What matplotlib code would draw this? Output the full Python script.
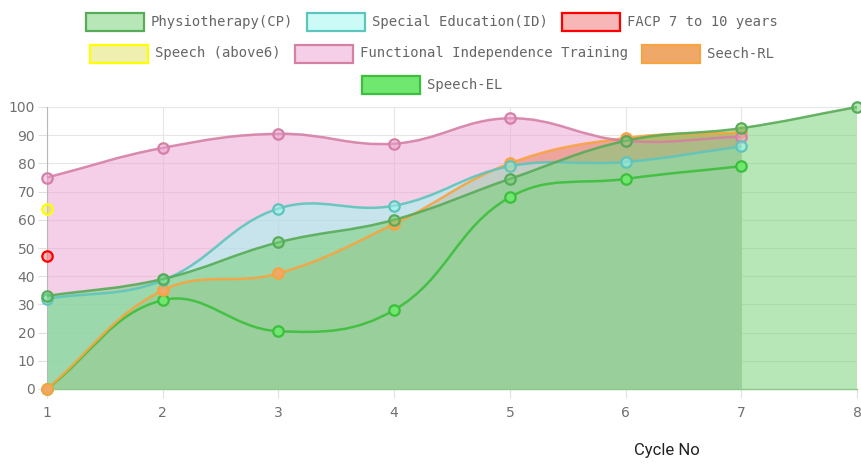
import numpy as np
import matplotlib
matplotlib.use("Agg")
import matplotlib.pyplot as plt
from matplotlib.path import Path
from matplotlib.patches import PathPatch, Rectangle

# data
cycles = [1, 2, 3, 4, 5, 6, 7, 8]
physio = [33, 39, 52, 60, 74.5, 88, 92.5, 100]
special_ed = [32, 38.5, 64, 65, 79, 80.5, 86]
facp = [47]
speech_above6 = [64]
fit = [75, 85.5, 90.5, 87, 96, 88, 89.5]
seech_rl = [0, 35, 41, 58.5, 80, 89, 91]
speech_el = [0, 31.5, 20.5, 28, 68, 74.5, 79]

labels = ["Physiotherapy(CP)", "Special Education(ID)", "FACP 7 to 10 years",
          "Speech (above6)", "Functional Independence Training", "Seech-RL", "Speech-EL"]
series = [physio, special_ed, facp, speech_above6, fit, seech_rl, speech_el]

fill_colors = [(0.443, 0.82, 0.443, 0.5),
               (0.608, 0.973, 0.941, 0.5),
               (0.945, 0.443, 0.443, 0.5),
               (0.882, 0.882, 0.38, 0.5),
               (0.922, 0.631, 0.82, 0.5),
               "#f0a868",
               "#70e870"]
line_colors = ["#58ab58", "#5ec5bc", "#ff0000", "#ffff00", "#d580a5", "#f7a440", "#3cbf3c"]

W, H = 861, 467
fig = plt.figure(figsize=(W / 100, H / 100), dpi=100)
ax = fig.add_axes([47 / W, 1 - 389 / H, 810 / W, 282 / H])
ax.set_xlim(1, 8)
ax.set_ylim(0, 100)


def bezier(xs, ys, t=0.4):
    # chart.js style spline, control points worked out in pixel space
    pts = ax.transData.transform(np.column_stack([xs, ys]))
    n = len(pts)
    cp_prev, cp_next = [], []
    for i in range(n):
        cur = pts[i]
        prev = pts[i - 1] if i > 0 else cur
        nxt = pts[i + 1] if i < n - 1 else cur
        d01 = np.hypot(*(cur - prev))
        d12 = np.hypot(*(nxt - cur))
        s = d01 + d12
        s01 = d01 / s if s else 0
        s12 = d12 / s if s else 0
        cp_prev.append(cur - t * s01 * (nxt - prev))
        cp_next.append(cur + t * s12 * (nxt - prev))
    verts = [pts[0]]
    for i in range(n - 1):
        verts += [cp_next[i], cp_prev[i + 1], pts[i + 1]]
    verts = ax.transData.inverted().transform(np.array(verts))
    verts[:, 1] = np.clip(verts[:, 1], 0, 100)
    codes = [Path.MOVETO] + [Path.CURVE4] * (3 * (n - 1))
    return verts, codes


ax.grid(color="#e6e6e6", lw=0.8)
ax.set_axisbelow(True)

# fills first, last dataset at the bottom
for k in range(len(series) - 1, -1, -1):
    ys = series[k]
    if len(ys) < 2:
        continue
    xs = cycles[:len(ys)]
    v, c = bezier(xs, ys)
    verts = [(xs[0], 0)] + list(v) + [(xs[-1], 0), (xs[0], 0)]
    codes = [Path.MOVETO, Path.LINETO] + c[1:] + [Path.LINETO, Path.CLOSEPOLY]
    ax.add_patch(PathPatch(Path(verts, codes), fc=fill_colors[k], ec="none", zorder=2))

# thin edge along the bottom of the green area
ax.plot([1, 8], [0, 0], color="#8cc88c", lw=1, zorder=3, clip_on=False)

for k in range(len(series) - 1, -1, -1):
    ys = series[k]
    xs = cycles[:len(ys)]
    z = 10 + (len(series) - k)
    if len(ys) > 1:
        v, c = bezier(xs, ys)
        ax.add_patch(PathPatch(Path(v, c), fc="none", ec=line_colors[k], lw=1.8,
                               alpha=0.9, zorder=z, clip_on=False))
    ax.plot(xs, ys, "o", ms=7.5, mfc=fill_colors[k], mec=line_colors[k], mew=1.6,
            clip_on=False, zorder=z + 0.5)

ax.set_xticks(cycles)
ax.set_yticks(range(0, 101, 10))
ax.tick_params(axis="both", length=6.5, width=0.8, color="#e0e0e0",
               labelcolor="#707070", labelsize=10)
ax.tick_params(axis="y", pad=2)
ax.tick_params(axis="x", pad=6)
for s in ["top", "right", "bottom"]:
    ax.spines[s].set_visible(False)
ax.spines["left"].set_color("#b8b8b8")
ax.spines["left"].set_linewidth(0.8)

# legend, three centred rows
fig.canvas.draw()
renderer = fig.canvas.get_renderer()
rows = [[0, 1, 2], [3, 4, 5], [6]]
row_y = [22, 53.5, 85]
box_w, box_h, gap, spacing = 58, 18, 7, 14
for row, yc in zip(rows, row_y):
    texts, widths = [], []
    for i in row:
        t = fig.text(0, 1 - yc / H, labels[i], family="DejaVu Sans Mono", fontsize=10,
                     color="#666666", va="center", ha="left")
        texts.append(t)
        widths.append(t.get_window_extent(renderer).width)
    total = sum(box_w + gap + w for w in widths) + spacing * (len(row) - 1)
    x = 432 - total / 2
    for i, t, w in zip(row, texts, widths):
        fig.add_artist(Rectangle((x / W, 1 - (yc + box_h / 2) / H), box_w / W, box_h / H,
                                 transform=fig.transFigure, fc=fill_colors[i],
                                 ec=line_colors[i], lw=1.6))
        t.set_position(((x + box_w + gap) / W, 1 - yc / H))
        x += box_w + gap + w + spacing

fig.text(667 / W, 1 - 451 / H, "Cycle No", ha="center", va="center",
         family="Roboto", fontsize=12, color="#222222")

fig.savefig("out.png", dpi=100)
